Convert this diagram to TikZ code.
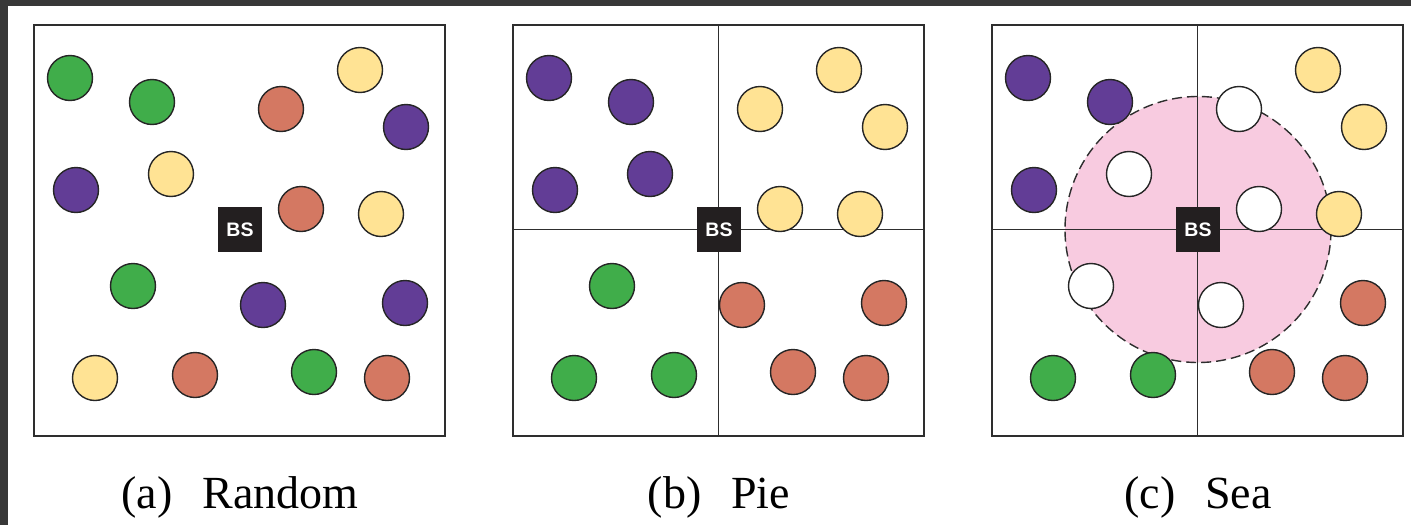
\documentclass[tikz,border=0pt]{standalone}
\usepackage{fontspec}
\setmainfont{Liberation Serif}
\newfontfamily\bsfont{Liberation Sans}
\definecolor{framegray}{HTML}{383838}
\definecolor{linegray}{HTML}{2E2E2E}
\definecolor{ugreen}{HTML}{40AD4A}
\definecolor{upurple}{HTML}{623D96}
\definecolor{ured}{HTML}{D47862}
\definecolor{uyellow}{HTML}{FFE394}
\definecolor{uwhite}{HTML}{FFFFFF}
\definecolor{seapink}{HTML}{F8CBE0}
\definecolor{bsblack}{HTML}{231F20}
\tikzset{
  panelbox/.style={draw=linegray, line width=2pt},
  splitline/.style={draw=linegray, line width=1.8pt},
  dev/.style={circle, minimum size=45pt, inner sep=0pt, draw=black!85, line width=1.4pt},
  bsbox/.style={fill=bsblack, text=white, minimum width=44pt, minimum height=45pt, inner sep=0pt,
    font=\bsfont\bfseries\fontsize{19.5}{19.5}\selectfont},
  seazone/.style={circle, minimum size=266pt, inner sep=0pt, fill=seapink, draw=linegray,
    line width=1.4pt, dash pattern=on 10pt off 5pt},
  caption/.style={anchor=base, font=\fontsize{46}{46}\selectfont}
}
\begin{document}
\begin{tikzpicture}[x=1pt, y=-1pt]
\useasboundingbox (0,0) rectangle (1411,525);
\fill[white] (0,0) rectangle (1411,525);
% dark window frame along the top and left edges
\fill[framegray] (0,0) rectangle (1411,6);
\fill[framegray] (0,0) rectangle (8,525);

% panel (c): coverage zone around the base station, drawn first
\node[seazone] (sea) at (1198,229.5) {};

% panel frames and quadrant split lines
\foreach \p/\ox in {a/34, b/513, c/992} {
  \coordinate (\p-nw) at (\ox,24.5);
  \coordinate (\p-se) at (\ox+411,435.5);
  \coordinate (\p-top) at (\ox+205.5,24.5);
  \coordinate (\p-bot) at (\ox+205.5,435.5);
  \coordinate (\p-left) at (\ox,229.5);
  \coordinate (\p-right) at (\ox+411,229.5);
  \draw[panelbox] (\p-nw) rectangle (\p-se);
}
\foreach \p in {b, c} {
  \draw[splitline] (\p-top) -- (\p-bot);
  \draw[splitline] (\p-left) -- (\p-right);
}

% user devices: same positions in every panel, coloured per scheme
\foreach \x/\y/\ca/\cb/\cc [count=\i] in {
   70/78/ugreen/upurple/upurple,
  152/102/ugreen/upurple/upurple,
  281/109/ured/uyellow/uwhite,
  360/70/uyellow/uyellow/uyellow,
  406/127/upurple/uyellow/uyellow,
   76/190/upurple/upurple/upurple,
  171/174/uyellow/upurple/uwhite,
  301/209/ured/uyellow/uwhite,
  381/214/uyellow/uyellow/uyellow,
  133/286/ugreen/ugreen/uwhite,
  263/305/upurple/ured/uwhite,
  405/303/upurple/ured/ured,
   95/378/uyellow/ugreen/ugreen,
  195/375/ured/ugreen/ugreen,
  314/372/ugreen/ured/ured,
  387/378/ured/ured/ured} {
  \node[dev, fill=\ca] (a-u\i) at (\x,\y) {};
  \node[dev, fill=\cb] (b-u\i) at (\x+479,\y) {};
  \node[dev, fill=\cc] (c-u\i) at (\x+958,\y) {};
}

% base stations
\node[bsbox] (a-bs) at (240,229.5) {BS};
\node[bsbox] (b-bs) at (719,229.5) {BS};
\node[bsbox] (c-bs) at (1198,229.5) {BS};

% sub-captions
\node[caption] (a-cap) at (240,508) {(a)\hspace{0.65em}Random};
\node[caption] (b-cap) at (719,508) {(b)\hspace{0.65em}Pie};
\node[caption] (c-cap) at (1198,508) {(c)\hspace{0.65em}Sea};
\end{tikzpicture}
\end{document}
